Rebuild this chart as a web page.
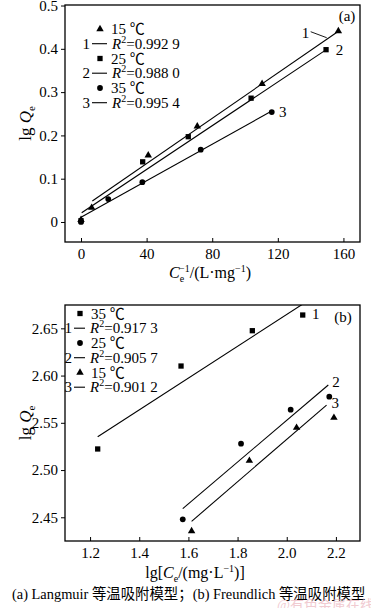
<!DOCTYPE html>
<html>
<head>
<meta charset="utf-8">
<script src="https://cdn.jsdelivr.net/npm/d3@7"></script>
<style>
  body { margin: 0; background: #fff; }
  text { font-family: "Liberation Serif", "Times New Roman", serif; fill: #000; }
  .cjk { font-family: "Liberation Serif", "Noto Sans CJK SC", serif; }
</style>
</head>
<body>
<script>
const {select, scaleLinear, axisLeft, axisBottom, symbol, symbolTriangle, symbolSquare, symbolCircle} = d3;

// (a) Langmuir  x = Ce^-1, y = lg Qe
const langX15 = [0, 6.5, 41, 70.9, 110.4, 156.9];
const langY15 = [0.005, 0.033, 0.154, 0.221, 0.319, 0.441];
const langX25 = [0, 37.6, 65.4, 103.7, 149.4];
const langY25 = [0.003, 0.139, 0.197, 0.286, 0.398];
const langX35 = [0, 16.6, 37.4, 73, 116.3];
const langY35 = [0, 0.053, 0.092, 0.167, 0.254];
const langFitX = [[6.9, 156.5], [0.4, 149.8], [0, 115.2]];
const langFitY = [[0.0485, 0.4395], [0.0215, 0.3988], [0.0109, 0.254]];
const langTemps = ["15 ℃", "25 ℃", "35 ℃"];
const langR2 = ["0.992 9", "0.988 0", "0.995 4"];
const langTicksX = [0, 40, 80, 120, 160];
const langTicksY = [0, 0.1, 0.2, 0.3, 0.4, 0.5];
const langTickLabelsY = ["0", "0.1", "0.2", "0.3", "0.4", "0.5"];

// (b) Freundlich  x = lg Ce, y = lg Qe
const freX35 = [1.231, 1.570, 1.860, 2.065];
const freY35 = [2.5223, 2.6101, 2.6475, 2.6641];
const freX25 = [1.577, 1.814, 2.016, 2.173];
const freY25 = [2.4479, 2.5279, 2.5639, 2.5776];
const freX15 = [1.613, 1.848, 2.040, 2.192];
const freY15 = [2.4355, 2.5099, 2.5448, 2.5554];
const freFitX = [[1.231, 2.07], [1.577, 2.169], [1.613, 2.162]];
const freFitY = [[2.5353, 2.6765], [2.4592, 2.590], [2.4457, 2.5688]];
const freTemps = ["35 ℃", "25 ℃", "15 ℃"];
const freR2 = ["0.917 3", "0.905 7", "0.901 2"];
const freTicksX = [1.2, 1.4, 1.6, 1.8, 2.0, 2.2];
const freTickLabelsX = ["1.2", "1.4", "1.6", "1.8", "2.0", "2.2"];
const freTicksY = [2.45, 2.50, 2.55, 2.60, 2.65];
const freTickLabelsY = ["2.45", "2.50", "2.55", "2.60", "2.65"];

const width = 371, height = 608;

const svg = select('body')
    .append('svg')
    .attr('width', width)
    .attr('height', height);

const triangle = symbol().type(symbolTriangle).size(24);
const square = symbol().type(symbolSquare).size(28);
const circle = symbol().type(symbolCircle).size(26);

function drawPanel(p) {
    const x = scaleLinear().domain(p.xDomain).range([p.left, p.right]);
    const y = scaleLinear().domain(p.yDomain).range([p.bottom, p.top]);

    const clipId = 'clip-' + p.name;
    svg.append('clipPath').attr('id', clipId)
        .append('rect')
        .attr('x', p.left).attr('y', p.top)
        .attr('width', p.right - p.left).attr('height', p.bottom - p.top);

    // axes: x ticks inside, y ticks outside
    const gx = svg.append('g')
        .attr('transform', `translate(0,${p.bottom})`)
        .call(axisBottom(x).tickValues(p.ticksX).tickFormat((d, i) => p.tickLabelsX[i])
            .tickSize(-4).tickSizeOuter(0).tickPadding(6));
    gx.attr('font-size', 15);
    gx.select('.domain').remove();
    gx.selectAll('line').attr('stroke-width', 1);

    const gy = svg.append('g')
        .attr('transform', `translate(${p.left},0)`)
        .call(axisLeft(y).tickValues(p.ticksY).tickFormat((d, i) => p.tickLabelsY[i])
            .tickSize(4).tickSizeOuter(0).tickPadding(3));
    gy.attr('font-size', 15);
    gy.select('.domain').remove();
    gy.selectAll('line').attr('stroke-width', 1);

    svg.append('rect')
        .attr('x', p.left).attr('y', p.top)
        .attr('width', p.right - p.left).attr('height', p.bottom - p.top)
        .attr('fill', 'none').attr('stroke', '#000').attr('stroke-width', 1.3);

    const plot = svg.append('g').attr('clip-path', `url(#${clipId})`);

    // fitted lines
    p.fitX.forEach((fx, i) => {
        plot.append('line')
            .attr('x1', x(fx[0])).attr('y1', y(p.fitY[i][0]))
            .attr('x2', x(fx[1])).attr('y2', y(p.fitY[i][1]))
            .attr('stroke', '#000').attr('stroke-width', 1.1);
    });

    // points
    p.series.forEach(s => {
        plot.selectAll(null)
            .data(s.xs.map((v, i) => [v, s.ys[i]]))
            .enter()
            .append('path')
            .attr('d', s.shape)
            .attr('transform', d => `translate(${x(d[0])},${y(d[1])})`)
            .attr('fill', '#000');
    });

    // line numbers
    p.fitLabels.forEach((lab, i) => {
        const ex = x(p.fitX[i][1]), ey = y(p.fitY[i][1]);
        svg.append('text')
            .attr('x', ex + lab.dx).attr('y', ey + lab.dy)
            .attr('font-size', 15)
            .text(String(i + 1));
        if (lab.leader) {
            svg.append('line')
                .attr('x1', ex + lab.leader[0]).attr('y1', ey + lab.leader[1])
                .attr('x2', ex + lab.leader[2]).attr('y2', ey + lab.leader[3])
                .attr('stroke', '#000').attr('stroke-width', 0.9);
        }
    });

    svg.append('text')
        .attr('x', p.tagX).attr('y', p.tagY)
        .attr('text-anchor', 'middle')
        .attr('font-size', 15)
        .text(p.tag);

    // legend
    const lg = svg.append('g').attr('transform', `translate(${p.legendX},${p.legendY})`);
    p.temps.forEach((t, i) => {
        const ry = i * 29.5;
        lg.append('path')
            .attr('d', p.series[i].shape)
            .attr('transform', `translate(${p.legendMarkX},${ry})`)
            .attr('fill', '#000');
        lg.append('text')
            .attr('x', p.legendMarkX + 11).attr('y', ry + 5)
            .attr('font-size', 15)
            .attr('class', 'cjk')
            .text(t);
        const fy = ry + 14.7;
        lg.append('text')
            .attr('x', p.legendNumX).attr('y', fy + 5)
            .attr('text-anchor', 'end')
            .attr('font-size', 15)
            .text(String(i + 1));
        lg.append('line')
            .attr('x1', p.legendNumX + 2).attr('x2', p.legendNumX + p.legendLineW)
            .attr('y1', fy).attr('y2', fy)
            .attr('stroke', '#000').attr('stroke-width', 1.1);
        const rt = lg.append('text')
            .attr('x', p.legendNumX + p.legendLineW + 5).attr('y', fy + 5)
            .attr('font-size', 15);
        rt.append('tspan').attr('font-style', 'italic').text('R');
        rt.append('tspan').attr('font-size', 10).attr('dy', -6).text('2');
        rt.append('tspan').attr('dy', 6).text('=' + p.r2[i]);
    });

    // y label
    const yl = svg.append('text')
        .attr('transform', `translate(31,${(p.top + p.bottom) / 2}) rotate(-90)`)
        .attr('text-anchor', 'middle')
        .attr('font-size', 17);
    yl.append('tspan').text('lg ');
    yl.append('tspan').attr('font-style', 'italic').text('Q');
    yl.append('tspan').attr('font-size', 11).attr('dy', 4).text('e');

    return {x, y};
}

drawPanel({
    name: 'a',
    left: 65, right: 360, top: 5, bottom: 242,
    xDomain: [-9.76, 170.1], yDomain: [-0.0462, 0.5012],
    ticksX: langTicksX, tickLabelsX: langTicksX.map(String),
    ticksY: langTicksY, tickLabelsY: langTickLabelsY,
    fitX: langFitX, fitY: langFitY,
    series: [
        {xs: langX15, ys: langY15, shape: triangle},
        {xs: langX25, ys: langY25, shape: square},
        {xs: langX35, ys: langY35, shape: circle}
    ],
    fitLabels: [
        {dx: -36, dy: 6, leader: [-27, 0, -11, 6]},
        {dx: 9, dy: 6},
        {dx: 9, dy: 5}
    ],
    tag: '(a)', tagX: 347, tagY: 21,
    temps: langTemps, r2: langR2,
    legendX: 0, legendY: 29, legendMarkX: 100, legendNumX: 90, legendLineW: 17
});

drawPanel({
    name: 'b',
    left: 65, right: 360, top: 305, bottom: 541,
    xDomain: [1.098, 2.298], yDomain: [2.4249, 2.6747],
    ticksX: freTicksX, tickLabelsX: freTickLabelsX,
    ticksY: freTicksY, tickLabelsY: freTickLabelsY,
    fitX: freFitX, fitY: freFitY,
    series: [
        {xs: freX35, ys: freY35, shape: square},
        {xs: freX25, ys: freY25, shape: circle},
        {xs: freX15, ys: freY15, shape: triangle}
    ],
    fitLabels: [
        {dx: 8, dy: 16},
        {dx: 4, dy: 2},
        {dx: 5, dy: 3}
    ],
    tag: '(b)', tagX: 343, tagY: 322,
    temps: freTemps, r2: freR2,
    legendX: 0, legendY: 313.5, legendMarkX: 80, legendNumX: 72, legendLineW: 13
});

// x labels
const xa = svg.append('text')
    .attr('x', 210).attr('y', 278)
    .attr('text-anchor', 'middle')
    .attr('font-size', 16);
xa.append('tspan').attr('font-style', 'italic').text('C');
xa.append('tspan').attr('font-size', 10).attr('dy', 4).text('e');
xa.append('tspan').attr('font-size', 10).attr('dx', -5).attr('dy', -10).text('−1');
xa.append('tspan').attr('dy', 6).text('/(L·mg');
xa.append('tspan').attr('font-size', 10).attr('dy', -6).text('−1');
xa.append('tspan').attr('dy', 6).text(')');

const xb = svg.append('text')
    .attr('x', 195).attr('y', 578)
    .attr('text-anchor', 'middle')
    .attr('font-size', 16);
xb.append('tspan').text('lg[');
xb.append('tspan').attr('font-style', 'italic').text('C');
xb.append('tspan').attr('font-size', 10).attr('dy', 4).text('e');
xb.append('tspan').attr('dy', -4).text('/(mg·L');
xb.append('tspan').attr('font-size', 10).attr('dy', -6).text('−1');
xb.append('tspan').attr('dy', 6).text(')]');

// caption
svg.append('text')
    .attr('x', 12).attr('y', 599)
    .attr('font-size', 14.4)
    .attr('class', 'cjk')
    .text('(a) Langmuir 等温吸附模型；(b) Freundlich 等温吸附模型');

// watermark
svg.append('text')
    .attr('x', 277).attr('y', 610)
    .attr('font-size', 14)
    .attr('class', 'cjk')
    .style('fill', '#e9a9b4')
    .attr('opacity', 0.6)
    .text('@有色金属在线');
</script>
</body>
</html>
